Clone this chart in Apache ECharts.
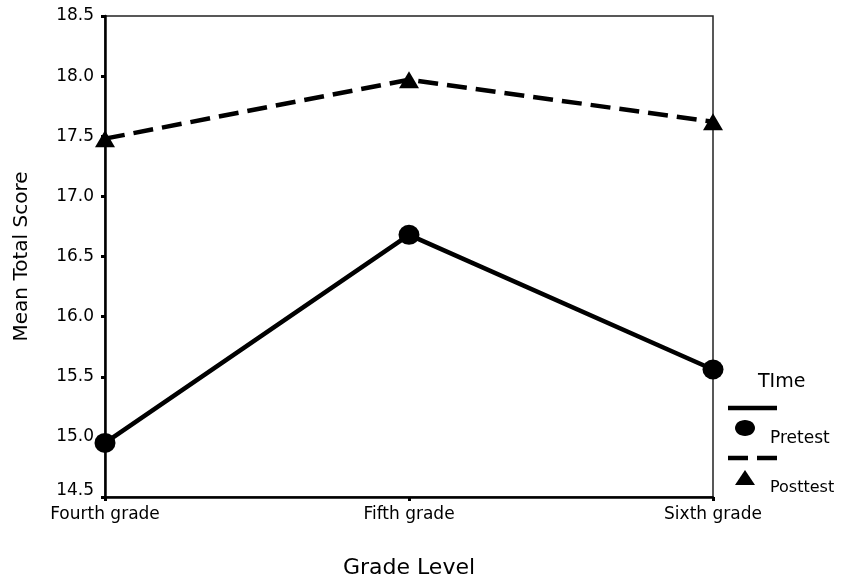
<!DOCTYPE html>
<html>
<head>
<meta charset="utf-8">
<script src="https://cdn.jsdelivr.net/npm/echarts@6/dist/echarts.min.js"></script>
<style>html,body{margin:0;padding:0;background:#fff}#c{width:853px;height:580px}</style>
</head>
<body>
<div id="c"></div>
<script>
var categories = ['Fourth grade', 'Fifth grade', 'Sixth grade'];
var pretest = [14.95, 16.68, 15.56];
var posttest = [17.48, 17.97, 17.62];
var seriesNames = ['Pretest', 'Posttest'];
var legendTitle = 'TIme';
var xTitle = 'Grade Level';
var yTitle = 'Mean Total Score';

var font = '"DejaVu Sans", Arial, sans-serif';
var chart = echarts.init(document.getElementById('c'));
chart.setOption({
  animation: false,
  backgroundColor: '#fff',
  grid: { left: 105, top: 16, right: 140, bottom: 83, show: true, borderColor: '#222', borderWidth: 1.5,
          outerBoundsMode: 'none', containLabel: false },
  xAxis: {
    type: 'category', data: categories, boundaryGap: false,
    name: xTitle, nameLocation: 'middle', nameGap: 60,
    nameTextStyle: { fontFamily: font, fontSize: 22, color: '#000' },
    axisLine: { lineStyle: { color: '#000', width: 2.5 } },
    axisTick: { show: true, length: 4, lineStyle: { color: '#000', width: 3 }, alignWithLabel: true },
    axisLabel: { fontFamily: font, fontSize: 17, color: '#000', margin: 9 },
    splitLine: { show: false }
  },
  yAxis: {
    type: 'value', min: 14.5, max: 18.5, interval: 0.5,
    name: yTitle, nameLocation: 'middle', nameGap: 73,
    nameTextStyle: { fontFamily: font, fontSize: 20, color: '#000' },
    axisLine: { show: true, lineStyle: { color: '#000', width: 2.5 } },
    axisTick: { show: true, length: 4, lineStyle: { color: '#000', width: 3 } },
    axisLabel: { fontFamily: font, fontSize: 17, color: '#000', margin: 11,
      formatter: function (v) { return v === 14.5 ? '{low|' + v.toFixed(1) + '}' : v.toFixed(1); },
      rich: { low: { fontFamily: font, fontSize: 17, color: '#000', padding: [0, 0, 13, 0] } } },
    splitLine: { show: false }
  },
  series: [
    { name: seriesNames[0], type: 'line', data: pretest, symbol: 'circle', symbolSize: [21, 20],
      lineStyle: { color: '#000', width: 4.5 }, itemStyle: { color: '#000' } },
    { name: seriesNames[1], type: 'line', data: posttest, symbol: 'triangle', symbolSize: [20, 17],
      lineStyle: { color: '#000', width: 4.5, type: [20, 9] }, itemStyle: { color: '#000' } }
  ],
  graphic: [
    { type: 'text', x: 758, y: 382, style: { text: legendTitle, font: '19px ' + font, fill: '#000', verticalAlign: 'middle' } },
    { type: 'line', shape: { x1: 728, y1: 408, x2: 777, y2: 408 }, style: { stroke: '#000', lineWidth: 4.5 } },
    { type: 'ellipse', shape: { cx: 745, cy: 428, rx: 10, ry: 8 }, style: { fill: '#000' } },
    { type: 'text', x: 770, y: 439, style: { text: seriesNames[0], font: '17px ' + font, fill: '#000', verticalAlign: 'middle' } },
    { type: 'line', shape: { x1: 728, y1: 458, x2: 777, y2: 458 }, style: { stroke: '#000', lineWidth: 4.5, lineDash: [20, 9] } },
    { type: 'polygon', shape: { points: [[745, 470], [755, 485], [735, 485]] }, style: { fill: '#000' } },
    { type: 'text', x: 770, y: 488, style: { text: seriesNames[1], font: '16px ' + font, fill: '#000', verticalAlign: 'middle' } }
  ]
});
</script>
</body>
</html>
